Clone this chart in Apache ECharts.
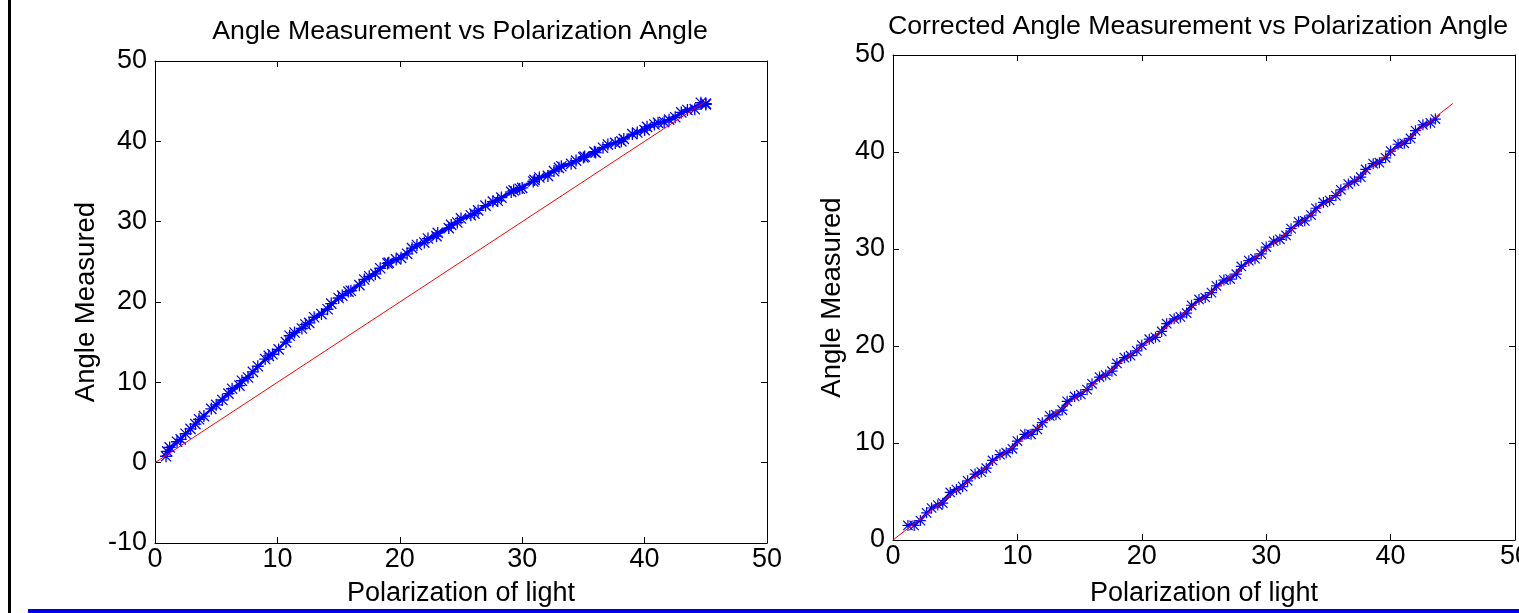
<!DOCTYPE html>
<html>
<head>
<meta charset="utf-8">
<script src="https://cdn.jsdelivr.net/npm/echarts@6/dist/echarts.min.js"></script>
<style>
  html, body { margin: 0; padding: 0; background: #fff; }
  #chart { width: 1519px; height: 613px; }
</style>
</head>
<body>
<div id="chart"></div>
<script>
// raw angle measurements (three sweeps) vs polarization of light
const rawRunA = [[0.9,0.8],[1.8,2.6],[2.9,4.2],[4.0,5.8],[5.0,7.2],[6.0,8.6],[7.1,10.2],[8.0,11.3],[9.0,12.9],[10.1,14.1],[11.0,15.8],[12.0,16.7],[13.0,18.1],[14.1,19.1],[15.0,20.5],[16.0,21.4],[17.1,22.8],[18.0,23.5],[19.0,24.8],[20.1,25.5],[21.0,26.7],[22.0,27.4],[23.1,28.6],[24.0,29.2],[25.0,30.4],[26.1,31.0],[27.0,32.0],[28.0,32.6],[29.1,33.7],[30.0,34.2],[31.0,35.2],[32.1,35.7],[33.0,36.7],[34.0,37.2],[35.1,38.1],[36.0,38.6],[37.0,39.6],[38.1,40.0],[39.0,40.9],[40.0,41.4],[41.1,42.3],[42.0,42.7],[43.0,43.6],[44.1,44.0],[45.0,44.7]];
const rawRunB = [[1.2,1.9],[2.5,3.6],[3.6,5.4],[5.5,7.8],[6.9,9.6],[8.4,12.0],[9.6,13.5],[11.4,16.2],[12.6,17.4],[14.4,19.8],[15.8,21.3],[17.5,23.2],[19.1,24.9],[20.6,26.0],[22.3,27.9],[24.2,29.6],[25.8,30.8],[27.6,32.5],[29.3,33.9],[30.9,35.0],[32.6,36.3],[34.4,37.6],[35.9,38.7],[37.6,39.8],[39.4,41.1],[40.8,42.1],[42.5,43.0],[44.6,44.8]];
const rawRunC = [[1.0,1.4],[2.1,2.9],[3.3,4.8],[4.6,6.7],[6.3,9.2],[7.6,10.6],[9.3,13.3],[10.7,15.0],[12.3,17.2],[13.6,18.5],[15.3,20.8],[16.7,22.1],[18.4,24.2],[19.7,25.3],[21.4,27.1],[23.0,28.2],[24.7,29.9],[26.4,31.4],[28.3,33.0],[29.8,34.1],[31.4,35.5],[33.2,36.9],[35.0,38.0],[36.6,39.2],[38.3,40.3],[40.2,41.8],[41.6,42.4],[43.5,43.9],[45.0,44.6]];

// corrected measurements (two sweeps)
const corrRunA = [[1.2,1.5],[2.2,2.0],[3.1,3.3],[4.0,3.8],[5.1,5.2],[6.0,6.1],[7.1,7.0],[8.0,8.2],[9.1,9.0],[10.0,10.2],[11.1,10.9],[12.0,12.1],[13.1,12.9],[14.0,14.3],[15.1,15.0],[16.0,16.1],[17.1,17.0],[18.0,18.2],[19.1,19.0],[20.0,20.1],[21.1,20.9],[22.0,22.3],[23.1,23.0],[24.0,24.2],[25.1,25.0],[26.0,26.2],[27.1,26.9],[28.0,28.2],[29.1,29.0],[30.0,30.2],[31.1,31.0],[32.0,32.1],[33.1,32.9],[34.0,34.2],[35.1,35.0],[36.0,36.1],[37.1,37.0],[38.0,38.2],[39.1,38.9],[40.0,40.1],[41.1,40.9],[42.0,42.2],[43.2,43.0]];
const corrRunB = [[1.7,1.5],[2.7,2.8],[3.6,3.6],[4.6,4.9],[5.6,5.5],[6.6,6.8],[7.5,7.4],[8.6,8.8],[9.6,9.4],[10.6,10.9],[11.6,11.4],[12.6,12.8],[13.6,13.4],[14.6,14.8],[15.6,15.5],[16.6,16.8],[17.6,17.4],[18.6,18.8],[19.6,19.5],[20.6,20.7],[21.6,21.5],[22.6,22.8],[23.6,23.4],[24.6,24.8],[25.6,25.5],[26.6,26.8],[27.6,27.4],[28.6,28.8],[29.6,29.5],[30.6,30.8],[31.6,31.4],[32.6,32.8],[33.6,33.5],[34.6,34.8],[35.6,35.5],[36.6,36.7],[37.6,37.4],[38.6,38.8],[39.6,39.4],[40.6,40.8],[41.6,41.4],[42.6,42.8],[43.6,43.4]];

// ideal y = x reference line
const idealLine = [[0,0],[45,45]];

const titles = ["Angle Measurement vs Polarization Angle", "Corrected Angle Measurement vs Polarization Angle"];
const xName = "Polarization of light";
const yName = "Angle Measured";

const FONT = "'Liberation Sans', Arial, Helvetica, sans-serif";
const BLUE = "#0000ff";
const RED = "#ff0000";
const STAR = "path://M8.9,0h2.2v20h-2.2z M0,8.9h20v2.2h-20z M2.2,0.7L19.3,17.8L17.8,19.3L0.7,2.2z M17.8,0.7L19.3,2.2L2.2,19.3L0.7,17.8z";

function mainX(gridIndex, gap) {
  return {
    type: "value", gridIndex: gridIndex, min: 0, max: 50, interval: 10, position: "bottom",
    name: xName, nameLocation: "middle", nameGap: gap,
    nameTextStyle: { color: "#000", fontSize: 27, fontFamily: FONT },
    axisLine: { show: true, onZero: false, lineStyle: { color: "#000", width: 1 } },
    axisTick: { show: true, inside: true, length: 6, lineStyle: { color: "#000" } },
    axisLabel: { color: "#000", fontSize: 27, fontFamily: FONT, margin: 3 },
    splitLine: { show: false }
  };
}
function boxX(gridIndex) {
  return {
    type: "value", gridIndex: gridIndex, min: 0, max: 50, interval: 10, position: "top",
    axisLine: { show: true, onZero: false, lineStyle: { color: "#000", width: 1 } },
    axisTick: { show: true, inside: true, length: 6, lineStyle: { color: "#000" } },
    axisLabel: { show: false }, splitLine: { show: false }
  };
}
function mainY(gridIndex, min, gap) {
  return {
    type: "value", gridIndex: gridIndex, min: min, max: 50, interval: 10, position: "left",
    name: yName, nameLocation: "middle", nameGap: gap,
    nameTextStyle: { color: "#000", fontSize: 27.5, fontFamily: FONT },
    axisLine: { show: true, onZero: false, lineStyle: { color: "#000", width: 1 } },
    axisTick: { show: true, inside: true, length: 6, lineStyle: { color: "#000" } },
    axisLabel: { color: "#000", fontSize: 27, fontFamily: FONT, margin: 8 },
    splitLine: { show: false }
  };
}
function boxY(gridIndex, min) {
  return {
    type: "value", gridIndex: gridIndex, min: min, max: 50, interval: 10, position: "right",
    axisLine: { show: true, onZero: false, lineStyle: { color: "#000", width: 1 } },
    axisTick: { show: true, inside: true, length: 6, lineStyle: { color: "#000" } },
    axisLabel: { show: false }, splitLine: { show: false }
  };
}
function runSeries(data, xIdx, yIdx, size) {
  return {
    type: "line", xAxisIndex: xIdx, yAxisIndex: yIdx, data: data,
    symbol: STAR, symbolSize: size, showAllSymbol: true,
    itemStyle: { color: BLUE }, lineStyle: { color: BLUE, width: 2 },
    animation: false, z: 3
  };
}
function idealSeries(xIdx, yIdx) {
  return {
    type: "line", xAxisIndex: xIdx, yAxisIndex: yIdx, data: idealLine,
    symbol: "none", lineStyle: { color: RED, width: 1 }, animation: false, z: 4
  };
}

const chart = echarts.init(document.getElementById("chart"));
chart.setOption({
  backgroundColor: "#fff",
  animation: false,
  title: [
    { text: titles[0], left: 460, top: 18, textAlign: "center", padding: 0,
      textStyle: { color: "#000", fontSize: 26.7, fontWeight: "normal", fontFamily: FONT } },
    { text: titles[1], left: 1198, top: 13, textAlign: "center", padding: 0,
      textStyle: { color: "#000", fontSize: 26.7, fontWeight: "normal", fontFamily: FONT } }
  ],
  grid: [
    { left: 155, top: 61, width: 612, height: 482, outerBoundsMode: "none" },
    { left: 893, top: 55, width: 622, height: 485, outerBoundsMode: "none" }
  ],
  xAxis: [mainX(0, 37), boxX(0), mainX(1, 40), boxX(1)],
  yAxis: [mainY(0, -10, 55), boxY(0, -10), mainY(1, 0, 47), boxY(1, 0)],
  series: [
    runSeries(rawRunA, 0, 0, 12),
    runSeries(rawRunB, 0, 0, 12),
    runSeries(rawRunC, 0, 0, 12),
    idealSeries(0, 0),
    runSeries(corrRunA, 2, 2, 11),
    runSeries(corrRunB, 2, 2, 11),
    idealSeries(2, 2)
  ],
  graphic: [
    { type: "rect", shape: { x: 8, y: 0, width: 3, height: 613 }, style: { fill: "#000" } },
    { type: "rect", shape: { x: 28, y: 609, width: 1491, height: 4 }, style: { fill: "#0000ee" } }
  ]
});
</script>
</body>
</html>
